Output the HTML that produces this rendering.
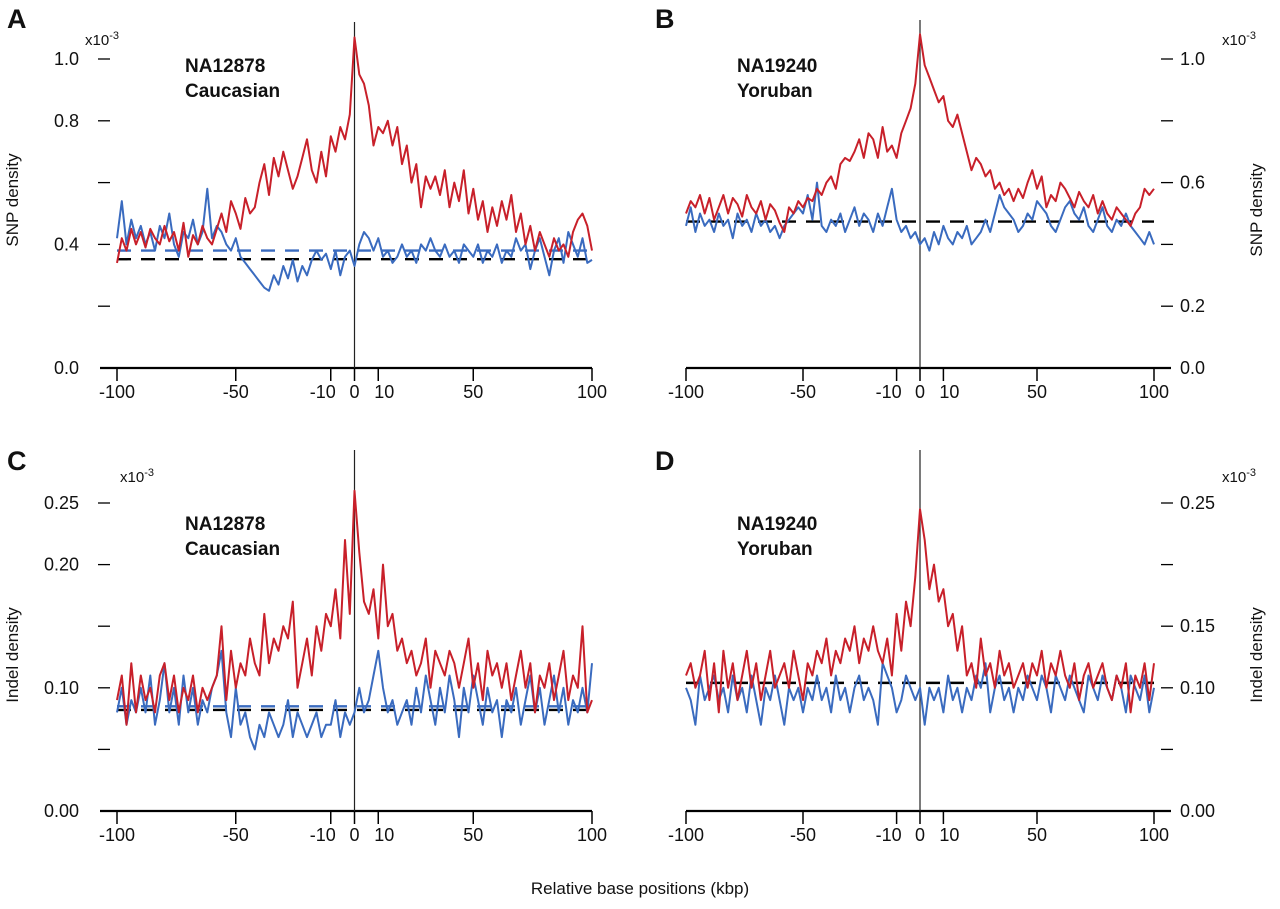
<!DOCTYPE html>
<html><head><meta charset="utf-8"><style>
body{margin:0;background:#fff;}
svg text{font-family:"Liberation Sans",Arial,sans-serif;fill:#111;}
</style></head><body>
<svg id="chart" width="1280" height="904" viewBox="0 0 1280 904" xmlns="http://www.w3.org/2000/svg">
<text x="640" y="894" text-anchor="middle" font-size="17">Relative base positions (kbp)</text>
</svg>
<script>
const xTicks=[-100,-50,-10,0,10,50,100];
const xTickLabels=["-100","-50","-10","0","10","50","100"];
const xStart=-100, xStep=2;

const aRed=[0.34,0.42,0.38,0.45,0.40,0.44,0.39,0.45,0.42,0.40,0.46,0.41,0.44,0.38,0.47,0.36,0.43,0.40,0.46,0.42,
0.40,0.45,0.50,0.44,0.54,0.50,0.45,0.55,0.50,0.52,
0.60,0.66,0.56,0.68,0.62,0.70,0.64,0.58,0.62,0.68,
0.74,0.64,0.60,0.70,0.62,0.75,0.70,0.78,0.74,0.82,
1.07,
0.95,0.92,0.85,0.72,0.78,0.76,0.80,0.72,0.78,0.66,
0.72,0.60,0.66,0.52,0.62,0.58,0.62,0.56,0.64,0.52,
0.60,0.54,0.64,0.50,0.58,0.48,0.54,0.44,0.52,0.46,
0.54,0.48,0.56,0.44,0.50,0.40,0.46,0.38,0.44,0.40,
0.36,0.42,0.38,0.40,0.36,0.44,0.48,0.50,0.46,0.38];
const aBlue=[0.42,0.54,0.40,0.48,0.42,0.46,0.40,0.44,0.38,0.46,0.42,0.50,0.40,0.36,0.44,0.42,0.48,0.40,0.44,0.58,
0.42,0.46,0.44,0.40,0.38,0.42,0.36,0.34,0.32,0.30,
0.28,0.26,0.25,0.30,0.27,0.33,0.29,0.35,0.28,0.33,
0.30,0.35,0.38,0.35,0.37,0.32,0.38,0.30,0.36,0.38,
0.33,
0.40,0.44,0.42,0.38,0.42,0.36,0.38,0.34,0.36,0.40,
0.36,0.38,0.34,0.40,0.38,0.42,0.38,0.36,0.40,0.36,
0.38,0.34,0.40,0.38,0.36,0.40,0.34,0.38,0.36,0.40,
0.34,0.38,0.36,0.42,0.38,0.40,0.32,0.38,0.42,0.36,
0.30,0.38,0.42,0.34,0.44,0.40,0.36,0.42,0.34,0.35];
const bRed=[0.50,0.54,0.52,0.56,0.50,0.55,0.48,0.52,0.56,0.50,0.55,0.53,0.49,0.56,0.52,0.50,0.54,0.48,0.53,0.51,
0.47,0.44,0.52,0.50,0.54,0.52,0.55,0.54,0.58,0.56,
0.60,0.62,0.58,0.66,0.68,0.67,0.70,0.74,0.68,0.76,
0.74,0.68,0.78,0.70,0.72,0.68,0.76,0.80,0.84,0.92,
1.08,
0.98,0.94,0.90,0.86,0.88,0.80,0.78,0.82,0.76,0.70,
0.64,0.68,0.66,0.62,0.64,0.58,0.60,0.56,0.58,0.54,
0.58,0.55,0.60,0.64,0.58,0.62,0.52,0.56,0.54,0.60,
0.58,0.55,0.52,0.57,0.54,0.52,0.56,0.50,0.54,0.50,
0.48,0.52,0.50,0.48,0.46,0.50,0.52,0.58,0.56,0.58];
const bBlue=[0.46,0.52,0.44,0.50,0.46,0.48,0.44,0.50,0.46,0.48,0.42,0.50,0.46,0.48,0.44,0.50,0.46,0.48,0.44,0.46,
0.42,0.46,0.48,0.50,0.52,0.50,0.56,0.48,0.60,0.46,
0.44,0.48,0.46,0.50,0.44,0.48,0.52,0.46,0.50,0.48,
0.44,0.50,0.46,0.52,0.58,0.48,0.44,0.46,0.42,0.44,
0.40,
0.42,0.38,0.44,0.40,0.46,0.42,0.40,0.44,0.42,0.46,
0.40,0.42,0.44,0.48,0.44,0.50,0.56,0.52,0.50,0.48,
0.44,0.46,0.50,0.48,0.54,0.52,0.50,0.46,0.44,0.48,
0.52,0.54,0.50,0.48,0.52,0.46,0.44,0.48,0.52,0.46,
0.44,0.48,0.46,0.50,0.46,0.44,0.42,0.40,0.44,0.40];
const cRed=[0.09,0.11,0.07,0.12,0.08,0.11,0.09,0.10,0.08,0.11,0.12,0.09,0.11,0.08,0.10,0.09,0.11,0.08,0.10,0.09,
0.10,0.11,0.15,0.09,0.13,0.10,0.12,0.11,0.14,0.12,
0.11,0.16,0.12,0.14,0.13,0.15,0.14,0.17,0.10,0.12,
0.14,0.11,0.15,0.13,0.16,0.15,0.18,0.14,0.22,0.16,
0.26,
0.21,0.17,0.16,0.18,0.14,0.20,0.15,0.16,0.13,0.14,
0.12,0.13,0.11,0.12,0.14,0.10,0.13,0.12,0.11,0.13,
0.12,0.10,0.12,0.14,0.10,0.12,0.09,0.13,0.11,0.12,
0.10,0.12,0.09,0.11,0.13,0.10,0.12,0.08,0.11,0.10,
0.12,0.09,0.11,0.13,0.09,0.11,0.10,0.15,0.08,0.09];
const cBlue=[0.08,0.10,0.07,0.09,0.08,0.10,0.08,0.11,0.07,0.09,0.12,0.08,0.10,0.07,0.11,0.08,0.10,0.07,0.09,0.08,
0.10,0.11,0.13,0.08,0.06,0.10,0.07,0.08,0.06,0.05,
0.07,0.06,0.08,0.07,0.06,0.07,0.09,0.06,0.08,0.07,
0.06,0.07,0.08,0.06,0.07,0.07,0.09,0.06,0.08,0.07,
0.08,
0.10,0.08,0.09,0.11,0.13,0.10,0.08,0.09,0.07,0.08,
0.09,0.07,0.10,0.08,0.11,0.09,0.07,0.10,0.08,0.11,
0.09,0.06,0.10,0.08,0.11,0.09,0.07,0.10,0.08,0.09,
0.06,0.09,0.08,0.10,0.07,0.09,0.11,0.08,0.10,0.07,
0.09,0.11,0.08,0.10,0.07,0.09,0.08,0.10,0.08,0.12];
const dRed=[0.11,0.12,0.10,0.11,0.13,0.09,0.12,0.08,0.13,0.10,0.12,0.09,0.11,0.13,0.10,0.12,0.09,0.11,0.13,0.10,
0.11,0.12,0.10,0.13,0.11,0.09,0.12,0.11,0.13,0.12,
0.14,0.11,0.13,0.12,0.14,0.13,0.15,0.12,0.14,0.13,
0.15,0.13,0.12,0.14,0.11,0.16,0.13,0.17,0.15,0.19,
0.245,
0.22,0.18,0.20,0.17,0.18,0.15,0.16,0.13,0.15,0.11,
0.12,0.10,0.14,0.11,0.12,0.10,0.13,0.11,0.12,0.10,
0.11,0.12,0.10,0.12,0.11,0.13,0.10,0.12,0.11,0.13,
0.11,0.10,0.12,0.09,0.11,0.12,0.10,0.11,0.12,0.10,
0.09,0.11,0.10,0.12,0.08,0.11,0.10,0.12,0.09,0.12];
const dBlue=[0.10,0.09,0.07,0.11,0.09,0.10,0.11,0.09,0.10,0.08,0.11,0.09,0.10,0.08,0.11,0.09,0.07,0.10,0.09,0.11,
0.09,0.07,0.10,0.09,0.10,0.08,0.10,0.09,0.11,0.09,
0.10,0.08,0.11,0.09,0.10,0.08,0.10,0.11,0.09,0.10,
0.09,0.07,0.12,0.11,0.10,0.08,0.09,0.11,0.10,0.09,
0.10,
0.07,0.10,0.09,0.10,0.08,0.11,0.09,0.10,0.08,0.10,
0.09,0.11,0.10,0.12,0.08,0.10,0.11,0.09,0.10,0.08,
0.10,0.09,0.11,0.10,0.09,0.11,0.10,0.08,0.11,0.10,
0.09,0.11,0.10,0.09,0.08,0.11,0.10,0.09,0.11,0.10,
0.09,0.11,0.10,0.08,0.11,0.10,0.09,0.11,0.08,0.10];

const aYTicks=[0,0.2,0.4,0.6,0.8,1.0];
const aYLabels=["0.0","","0.4","","0.8","1.0"];
const bYLabels=["0.0","0.2","","0.6","","1.0"];
const cYTicks=[0,0.05,0.10,0.15,0.20,0.25];
const cYLabels=["0.00","","0.10","","0.20","0.25"];
const dYLabels=["0.00","","0.10","0.15","","0.25"];
const baselines={aBlack:0.352,aBlue:0.38,bBlack:0.474,cBlack:0.082,cBlue:0.085,dBlack:0.104};

const NS="http://www.w3.org/2000/svg";
const svg=document.getElementById('chart');
function mk(tag,attrs,parent){const e=document.createElementNS(NS,tag);for(const k in attrs)e.setAttribute(k,attrs[k]);(parent||svg).appendChild(e);return e;}

function panel(p){
  const g=mk('g',{});
  
  
  const xs=v=>p.x0+(v+100)/200*(p.x1-p.x0);
  const ys=v=>p.yb-v/p.yMax*(p.yb-p.yt);
  // axis line
  const ax=mk('line',{x1:p.side==='left'?p.x0-17:p.x0,x2:p.side==='left'?p.x1:p.x1+17,y1:p.yb,y2:p.yb,stroke:'#000','stroke-width':2.2},g);
  
  
  xTicks.forEach((t,i)=>{
    const x=xs(t);
    const tl=mk('line',{x1:x,x2:x,y1:p.yb,y2:p.yb+13,stroke:'#000','stroke-width':1.5},g);
    
    
    let off=0; if(t===-10)off=-8; if(t===10)off=6;
    const tx=mk('text',{x:x+off,y:p.yb+30,'text-anchor':'middle','font-size':18},g);
    tx.textContent=xTickLabels[i];
    
    
  });
  p.yTicks.forEach((t,i)=>{
    const y=ys(t);
    if(t>0){
      const tl=p.side==='left'?mk('line',{x1:p.x0-19,x2:p.x0-7,y1:y,y2:y,stroke:'#000','stroke-width':1.3},g):mk('line',{x1:p.x1+7,x2:p.x1+19,y1:y,y2:y,stroke:'#000','stroke-width':1.3},g);
      
      
    }
    if(p.yLabels[i]){
      const tx=p.side==='left'?mk('text',{x:p.x0-38,y:y+6,'text-anchor':'end','font-size':18},g):mk('text',{x:p.x1+26,y:y+6,'text-anchor':'start','font-size':18},g);
      tx.textContent=p.yLabels[i];
      
      
    }
  });
  // vertical zero line
  const vl=mk('line',{x1:xs(0),x2:xs(0),y1:p.vTop,y2:p.yb,stroke:'#222','stroke-width':1.2},g);
  
  
  // baselines
  p.dashes.forEach(d=>{
    const l=mk('line',{x1:p.x0,x2:p.x1,y1:ys(d.v),y2:ys(d.v),stroke:d.c,'stroke-width':2.4,'stroke-dasharray':'14,10'},g);
    
    
  });
  // series
  [[p.blue,'#3a6bbf','blue-series'],[p.red,'#c8202a','red-series']].forEach(([arr,c,n])=>{
    const pts=arr.map((v,i)=>xs(xStart+i*xStep).toFixed(1)+','+ys(v).toFixed(1)).join(' ');
    const pl=mk('polyline',{points:pts,fill:'none',stroke:c,'stroke-width':2,'stroke-linejoin':'round'},g);
    
    
  });
  // labels
  const L=mk('text',{x:p.letter[0],y:p.letter[1],'font-size':27,'font-weight':'bold'},g);
  L.textContent=p.id;
  
  
  const ex=mk('text',{x:p.exp[0],y:p.exp[1],'font-size':15},g);
  ex.innerHTML='x10<tspan dy="-6" font-size="11">-3</tspan>';
  
  
  p.title.forEach((s,i)=>{
    const t=mk('text',{x:p.tpos[0],y:p.tpos[1]+i*25,'font-size':19,'font-weight':'bold'},g);
    t.textContent=s;
    
    
  });
  const yt=mk('text',{x:p.yTitle[0],y:p.yTitle[1],'font-size':17,'text-anchor':'middle',transform:`rotate(-90 ${p.yTitle[0]} ${p.yTitle[1]})`},g);
  yt.textContent=p.yTitleText;
  
  
}

panel({id:'A',side:'left',x0:117,x1:592,yb:368,yt:59,yMax:1.0,vTop:22,yTicks:aYTicks,yLabels:aYLabels,red:aRed,blue:aBlue,
 dashes:[{v:baselines.aBlue,c:'#3a6bbf',name:'blue-baseline'},{v:baselines.aBlack,c:'#000',name:'black-baseline'}],
 letter:[7,28],exp:[85,45],title:['NA12878','Caucasian'],tpos:[185,72],yTitle:[18,200],yTitleText:'SNP density'});
panel({id:'B',side:'right',x0:686,x1:1154,yb:368,yt:59,yMax:1.0,vTop:20,yTicks:aYTicks,yLabels:bYLabels,red:bRed,blue:bBlue,
 dashes:[{v:baselines.bBlack,c:'#000',name:'black-baseline'}],
 letter:[655,28],exp:[1222,45],title:['NA19240','Yoruban'],tpos:[737,72],yTitle:[1262,210],yTitleText:'SNP density'});
panel({id:'C',side:'left',x0:117,x1:592,yb:811,yt:503,yMax:0.25,vTop:450,yTicks:cYTicks,yLabels:cYLabels,red:cRed,blue:cBlue,
 dashes:[{v:baselines.cBlue,c:'#3a6bbf',name:'blue-baseline'},{v:baselines.cBlack,c:'#000',name:'black-baseline'}],
 letter:[7,470],exp:[120,482],title:['NA12878','Caucasian'],tpos:[185,530],yTitle:[18,655],yTitleText:'Indel density'});
panel({id:'D',side:'right',x0:686,x1:1154,yb:811,yt:503,yMax:0.25,vTop:450,yTicks:cYTicks,yLabels:dYLabels,red:dRed,blue:dBlue,
 dashes:[{v:baselines.dBlack,c:'#000',name:'black-baseline'}],
 letter:[655,470],exp:[1222,482],title:['NA19240','Yoruban'],tpos:[737,530],yTitle:[1262,655],yTitleText:'Indel density'});
</script>
</body></html>
